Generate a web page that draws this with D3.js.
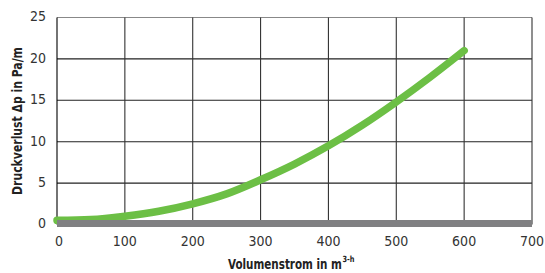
<!DOCTYPE html>
<html><head><meta charset="utf-8">
<script src="https://cdn.jsdelivr.net/npm/d3@7"></script>
<style>
body{margin:0;background:#fff;}
text{font-family:"Liberation Sans Narrow","DejaVu Sans Condensed","Roboto Condensed",sans-serif;}
</style></head>
<body><svg id="c" width="545" height="273"></svg>
<script>
const flow = [0, 50, 100, 150, 200, 250, 300, 350, 400, 450, 500, 550, 600];
const pressure = [0.5, 0.6, 1.0, 1.6, 2.5, 3.7, 5.4, 7.3, 9.5, 12.0, 14.8, 17.8, 21.0];
const xTicks = [0, 100, 200, 300, 400, 500, 600, 700];
const yTicks = [0, 5, 10, 15, 20, 25];
const xTitle = "Volumenstrom in m";
const xTitleSup = "3-h";
const yTitle = "Druckverlust Δp in Pa/m";

const svg = d3.select("#c");
const x = d3.scaleLinear().domain([0, 700]).range([57, 532]);
const y = d3.scaleLinear().domain([0, 25]).range([224.5, 17.5]);

// grid
svg.append("g").selectAll("line").data(yTicks.filter(d => d > 0)).join("line")
  .attr("x1", x(0)).attr("x2", x(700)).attr("y1", d => y(d)).attr("y2", d => y(d))
  .attr("stroke", d => d === 25 ? "#888" : "#222").attr("stroke-width", 1.1);
svg.append("g").selectAll("line").data(xTicks).join("line")
  .attr("x1", d => x(d)).attr("x2", d => x(d)).attr("y1", y(25)).attr("y2", y(0))
  .attr("stroke", d => d === 0 ? "#000" : "#333").attr("stroke-width", 1.1);

// curve
const line = d3.line().x((d, i) => x(flow[i])).y(d => y(d)).curve(d3.curveMonotoneX);
svg.append("path").datum(pressure).attr("d", line)
  .attr("fill", "none").attr("stroke", "#6cbf45").attr("stroke-width", 7.5)
  .attr("stroke-linecap", "round");

// baseline bar
svg.append("line").attr("x1", x(0)).attr("x2", x(700)).attr("y1", y(0) - 1).attr("y2", y(0) - 1)
  .attr("stroke", "#808082").attr("stroke-width", 7);

// tick labels
svg.append("g").selectAll("text").data(yTicks).join("text")
  .attr("x", 46).attr("y", d => y(d) - 1).attr("dy", "0.35em").attr("text-anchor", "end")
  .attr("font-size", 14).attr("fill", "#333").text(d => d);
svg.append("g").selectAll("text").data(xTicks).join("text")
  .attr("x", d => x(d) + (d === 0 ? 2 : 0)).attr("y", 246).attr("text-anchor", "middle")
  .attr("font-size", 14).attr("fill", "#333").text(d => d);

// axis titles (horizontally condensed via scale)
const xt = svg.append("text").attr("x", 0).attr("y", 0).attr("text-anchor", "start")
  .attr("font-size", 13.5).attr("font-weight", "bold").attr("fill", "#222").text(xTitle);
const w = xt.node().getComputedTextLength();
const sx = 114 / w;
xt.attr("transform", `translate(228,269) scale(${sx},1)`);
const sup = svg.append("text").attr("x", 0).attr("y", 0).attr("text-anchor", "start")
  .attr("font-size", 8.5).attr("font-weight", "bold").attr("fill", "#222").text(xTitleSup);
const ws = sup.node().getComputedTextLength();
sup.attr("transform", `translate(342.5,262) scale(${12 / ws},1)`);

const yt = svg.append("text").attr("x", 0).attr("y", 0).attr("text-anchor", "middle")
  .attr("font-size", 14).attr("font-weight", "bold").attr("fill", "#222").text(yTitle);
const wy = yt.node().getComputedTextLength();
yt.attr("transform", `translate(22,121) rotate(-90) scale(${148 / wy},1)`);
</script></body></html>
